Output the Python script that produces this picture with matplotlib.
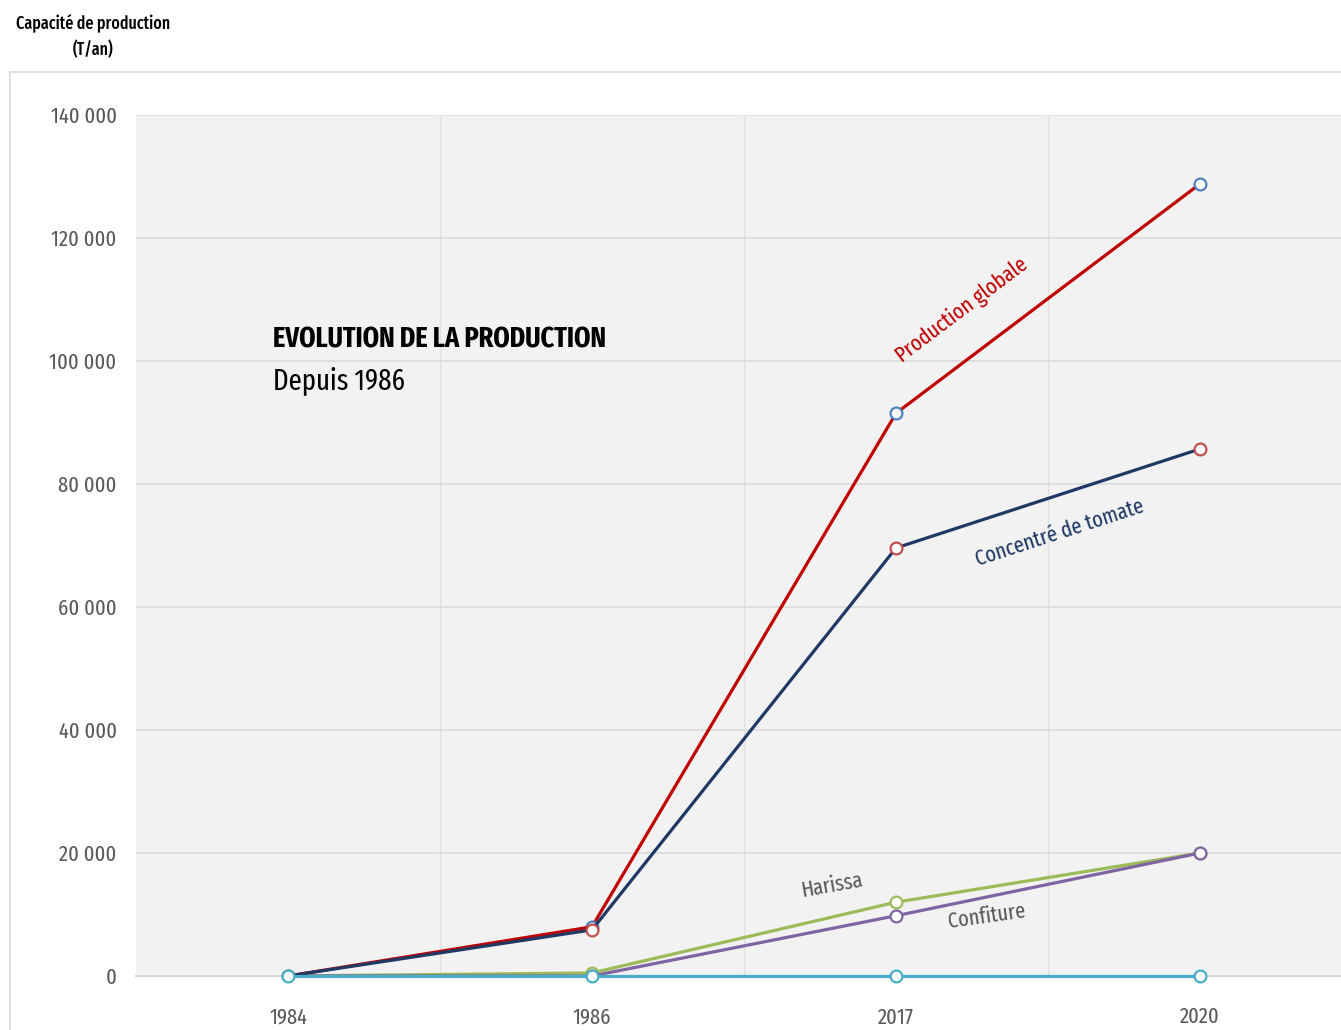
import numpy as np
import matplotlib
matplotlib.use("Agg")
import matplotlib.pyplot as plt
from matplotlib.patches import Rectangle

# données de capacité (T/an)
annees = ["1984", "1986", "2017", "2020"]
production_globale = [0, 8000, 91500, 128800]
concentre_tomate = [0, 7500, 69600, 85700]
harissa = [0, 500, 12000, 20000]
confiture = [0, 0, 9800, 20000]
autres = [0, 0, 0, 0]

y_ticks = [0, 20000, 40000, 60000, 80000, 100000, 120000, 140000]

plt.rcParams["font.family"] = ["Fira Sans Extra Condensed", "DejaVu Sans"]

fig = plt.figure(figsize=(13.41, 10.30), dpi=100)

# cadre extérieur du graphique
fig.patches.append(Rectangle((10 / 1341, -0.01), 1.0, (1030 - 72) / 1030 + 0.01,
                             transform=fig.transFigure, fill=False,
                             edgecolor="#d9d9d9", linewidth=1.2))

ax = fig.add_axes([136 / 1341, 54 / 1030, 1216 / 1341, 861 / 1030])
ax.set_facecolor("#f2f2f2")

x = np.arange(len(annees))
lw = 2.3
ms = 8.5
mew = 1.6

ax.plot(x[1:], production_globale[1:], color="#c00000", lw=lw, marker="o", ms=ms,
        mfc="white", mec="#4f81bd", mew=mew, zorder=3)
ax.plot(x[:2], production_globale[:2], color="#c00000", lw=lw, zorder=3)
ax.plot(x, concentre_tomate, color="#1f3864", lw=lw, zorder=4)
ax.plot(x[1:], concentre_tomate[1:], marker="o", ms=ms, linestyle="none",
        mfc="white", mec="#c0504d", mew=mew, zorder=4)
ax.plot(x, harissa, color="#9bbb59", lw=lw, marker="o", ms=ms,
        mfc="white", mec="#9bbb59", mew=mew, zorder=3)
ax.plot(x, confiture, color="#8064a2", lw=lw, marker="o", ms=ms,
        mfc="white", mec="#8064a2", mew=mew, zorder=3)
ax.plot(x, autres, color="#4bacc6", lw=lw, marker="o", ms=ms,
        mfc="white", mec="#4bacc6", mew=mew, zorder=5, clip_on=False)

ax.set_xlim(-0.5, 3.5)
ax.set_ylim(0, 140000)
ax.set_yticks(y_ticks)
ax.set_yticklabels([f"{v:,}".replace(",", " ") for v in y_ticks])
ax.set_xticks(x)
ax.set_xticklabels(annees)
ax.set_xticks([0.5, 1.5, 2.5], minor=True)

ax.grid(True, axis="y", color="#dadada", lw=1.2)
ax.grid(True, axis="x", which="minor", color="#e0e0e0", lw=1.0)
ax.set_axisbelow(True)
for s in ["top", "right", "left"]:
    ax.spines[s].set_visible(False)
ax.spines["bottom"].set_color("#d9d9d9")
ax.spines["bottom"].set_linewidth(1.5)
ax.tick_params(axis="both", which="both", length=0, labelsize=16, colors="#595959")
ax.tick_params(axis="x", pad=22)
ax.tick_params(axis="y", pad=14)

# étiquettes des courbes
ax.text(2.215, 108300, "Production globale", color="#c00000", fontsize=16,
        rotation=37, ha="center", va="center")
ax.text(2.54, 72000, "Concentré de tomate", color="#1f3864", fontsize=16,
        rotation=18, ha="center", va="center")
ax.text(1.79, 14700, "Harissa", color="#595959", fontsize=16,
        rotation=10, ha="center", va="center")
ax.text(2.3, 9700, "Confiture", color="#595959", fontsize=16,
        rotation=8, ha="center", va="center")

ax.text(-0.05, 103500, "EVOLUTION DE LA PRODUCTION", fontsize=20.5,
        fontweight="bold", color="black", ha="left", va="center")
ax.text(-0.05, 96800, "Depuis 1986", fontsize=21, color="black",
        ha="left", va="center")

fig.text(93 / 1341, 1 - 37 / 1030, "Capacité de production\n(T/an)", fontsize=12.5,
         ha="center", va="center", linespacing=1.5, fontweight="medium")

fig.savefig("out.png", dpi=100)
